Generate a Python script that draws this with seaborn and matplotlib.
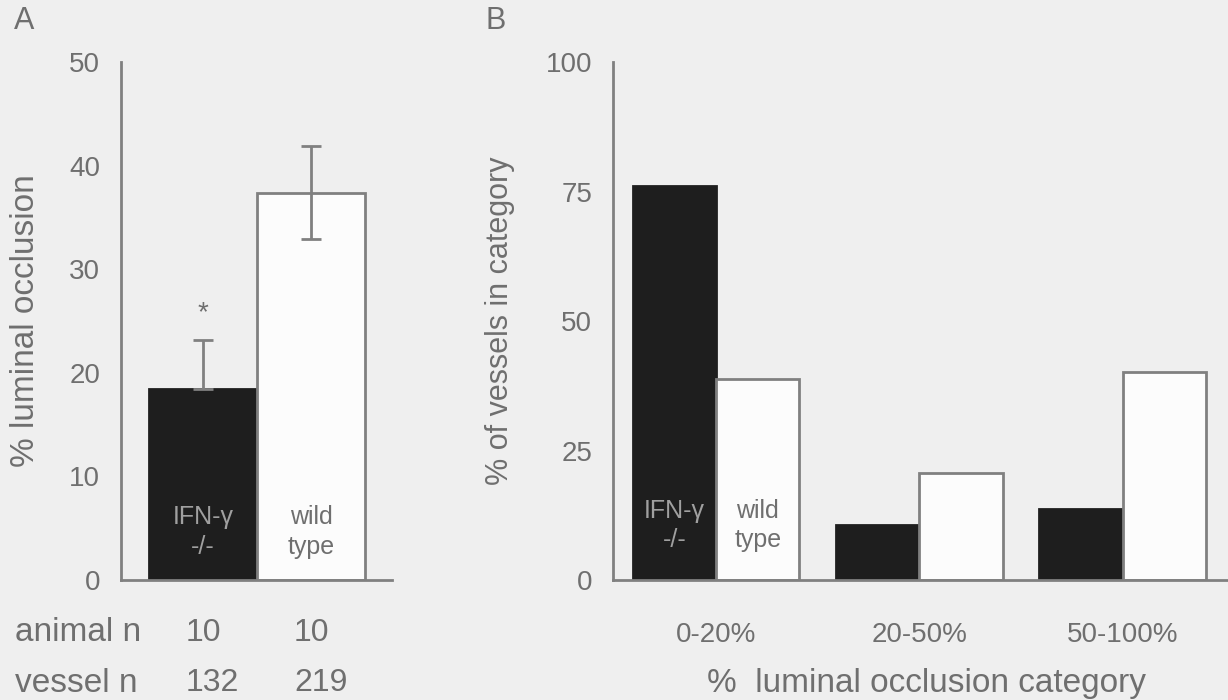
import matplotlib
matplotlib.use('Agg')
import matplotlib.pyplot as plt
import matplotlib.transforms as mtransforms
import seaborn as sns
import pandas as pd

# ---- data ----
genotypes = ['IFN-γ\n-/-', 'wild\ntype']
occlusion_mean = [18.4, 37.4]
occlusion_sem = [4.8, 4.5]
animal_n = [10, 10]
vessel_n = [132, 219]

categories = ['0-20%', '20-50%', '50-100%']
ko_pct = [76.0, 10.7, 13.8]
wt_pct = [38.8, 20.7, 40.1]

# ---- style ----
sns.set_theme(style='white')
plt.rcParams['font.family'] = ['Liberation Sans', 'DejaVu Sans']

BG = '#efefef'
LINE = '#808080'
TEXT = '#6f6f6f'
DARK = '#1e1e1e'
LIGHT = '#fcfcfc'
palette = [DARK, LIGHT]

plt.rcParams['text.color'] = TEXT
plt.rcParams['axes.labelcolor'] = TEXT
plt.rcParams['xtick.color'] = TEXT
plt.rcParams['ytick.color'] = TEXT

W, H = 1228, 700
fig = plt.figure(figsize=(W / 100, H / 100), dpi=100, facecolor=BG)


def px_axes(left, right, top, bottom):
    return fig.add_axes([left / W, 1 - bottom / H, (right - left) / W, (bottom - top) / H])


def style_axes(ax):
    ax.set_facecolor('none')
    sns.despine(ax=ax)
    for s in ['left', 'bottom']:
        ax.spines[s].set_color(LINE)
        ax.spines[s].set_linewidth(2)
    ax.tick_params(axis='y', length=10, width=1.6, color=LINE, labelsize=20, pad=5)
    ax.tick_params(axis='x', length=0, labelsize=20)


def fix_dark_edges(ax):
    for p in ax.patches:
        if p.get_facecolor()[0] < 0.5:
            p.set_edgecolor(DARK)


# ---- panel A ----
axA = px_axes(121, 392, 62, 580)
dfA = pd.DataFrame({'genotype': genotypes, 'occlusion': occlusion_mean})
sns.barplot(data=dfA, x='genotype', y='occlusion', hue='genotype', palette=palette,
            width=1.0, edgecolor=LINE, linewidth=2, legend=False, ax=axA)
fix_dark_edges(axA)

# error bars: the lower half is hidden inside the dark bar
lower = [0 if c == DARK else e for c, e in zip(palette, occlusion_sem)]
axA.errorbar(range(len(genotypes)), occlusion_mean, yerr=[lower, occlusion_sem],
             fmt='none', ecolor=LINE, elinewidth=2, capsize=7, capthick=2, zorder=5)
axA.text(0, occlusion_mean[0] + occlusion_sem[0] + 2.6, '*', ha='center', va='center',
         fontsize=20, color=TEXT)

style_axes(axA)
axA.set_ylim(0, 50)
axA.set_yticks([0, 10, 20, 30, 40, 50])
axA.set_xlim(-0.76, 1.75)
axA.set_xticks([])
axA.set_xlabel('')
axA.set_ylabel('% luminal occlusion', fontsize=24)
axA.yaxis.set_label_coords(-0.354, 0.5)
axA.yaxis.label.set_va('center')

for i, g in enumerate(genotypes):
    col = '#a0a0a0' if palette[i] == DARK else TEXT
    axA.text(i, 4.6, g, ha='center', va='center', fontsize=18, color=col, linespacing=1.3)

tA = mtransforms.blended_transform_factory(axA.transData, axA.transAxes)
axA.text(-0.391, -0.102, 'animal n', transform=axA.transAxes, ha='left', va='center', fontsize=24)
axA.text(-0.391, -0.199, 'vessel n', transform=axA.transAxes, ha='left', va='center', fontsize=24)
for i in range(len(genotypes)):
    axA.text(i, -0.102, str(animal_n[i]), transform=tA, ha='center', va='center', fontsize=23)
    axA.text(i + 0.09, -0.199, str(vessel_n[i]), transform=tA, ha='center', va='center', fontsize=23)

# ---- panel B ----
axB = px_axes(613, 1228, 62, 580)
dfB = pd.DataFrame({
    'category': categories * 2,
    'genotype': ['ko'] * len(categories) + ['wt'] * len(categories),
    'pct': ko_pct + wt_pct,
})
sns.barplot(data=dfB, x='category', y='pct', hue='genotype', palette=palette,
            width=0.82, gap=0, edgecolor=LINE, linewidth=2, legend=False, ax=axB)
fix_dark_edges(axB)

style_axes(axB)
axB.set_ylim(0, 100)
axB.set_yticks([0, 25, 50, 75, 100])
axB.set_xlim(-0.507, 2.517)
axB.tick_params(axis='x', pad=30)
axB.set_ylabel('% of vessels in category', fontsize=22)
axB.yaxis.set_label_coords(-0.184, 0.5)
axB.yaxis.label.set_va('center')
axB.set_xlabel('%  luminal occlusion category', fontsize=24)
axB.xaxis.set_label_coords(0.509, -0.199)
axB.xaxis.label.set_va('center')

axB.text(-0.205, 10.5, genotypes[0], ha='center', va='center', fontsize=18,
         color='#a0a0a0', linespacing=1.3)
axB.text(0.205, 10.5, genotypes[1], ha='center', va='center', fontsize=18,
         color=TEXT, linespacing=1.3)

# ---- panel letters ----
fig.text(14 / W, 1 - 6 / H, 'A', ha='left', va='top', fontsize=22, color=TEXT)
fig.text(486 / W, 1 - 6 / H, 'B', ha='left', va='top', fontsize=22, color=TEXT)

fig.savefig('out.png', dpi=100, facecolor=BG)
